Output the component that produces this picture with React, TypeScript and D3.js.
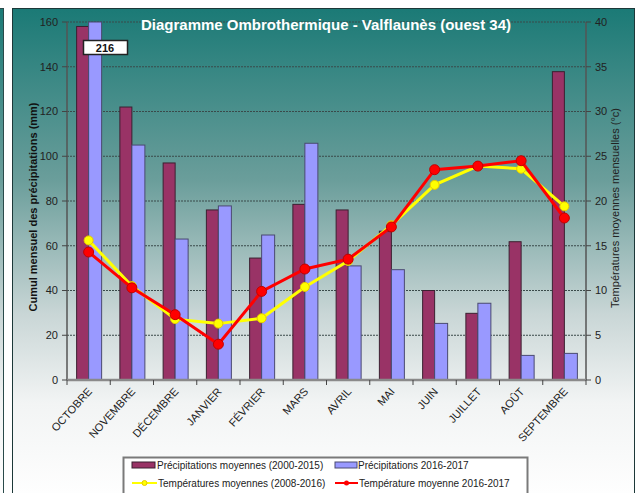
import * as d3 from "d3";

const months = ["OCTOBRE", "NOVEMBRE", "DÉCEMBRE", "JANVIER", "FÉVRIER", "MARS", "AVRIL", "MAI", "JUIN", "JUILLET", "AOÛT", "SEPTEMBRE"];
// precipitation (mm)
const precipMoy = [158, 122, 97, 76, 54.5, 78.5, 76, 66.5, 40, 29.8, 61.8, 137.8];
const precip1617 = [216, 105, 63, 77.8, 64.8, 105.8, 51, 49.3, 25.3, 34.3, 11, 11.9];
// temperatures (°C)
const tempMoy = [15.6, 10.5, 6.8, 6.3, 6.9, 10.4, 13.3, 17.3, 21.8, 23.9, 23.6, 19.4];
const temp1617 = [14.3, 10.3, 7.3, 4.0, 9.9, 12.4, 13.5, 17.1, 23.5, 23.9, 24.5, 18.1];

const leftTicks = [0, 20, 40, 60, 80, 100, 120, 140, 160];
const rightTicks = [0, 5, 10, 15, 20, 25, 30, 35, 40];

const W = 641, H = 493;
const plot = { left: 67, right: 586, top: 22, bottom: 380 };
const font = "'Liberation Sans', Arial, sans-serif";

const App = () => {
  const x = d3.scaleBand().domain(months).range([plot.left, plot.right]);
  const yL = d3.scaleLinear().domain([0, 160]).range([plot.bottom, plot.top]);
  const yR = d3.scaleLinear().domain([0, 40]).range([plot.bottom, plot.top]);
  const bw = 12;
  const cx = (m) => x(m) + x.bandwidth() / 2;

  const line = d3.line().x((d, i) => cx(months[i])).y(d => yR(d));

  return (
    <div style={{ position: "absolute", left: 0, top: 0 }}>
      <svg width={W} height={H} style={{ display: "block", fontFamily: font }}>
        <defs>
          <linearGradient id="bg" x1="0" y1="0" x2="0" y2="1">
            <stop offset="0" stopColor="#1b7a76" />
            <stop offset="0.35" stopColor="#6b9e9b" />
            <stop offset="0.62" stopColor="#c9d6d6" />
            <stop offset="0.8" stopColor="#f2f4f4" />
            <stop offset="1" stopColor="#ffffff" />
          </linearGradient>
        </defs>
        <rect x={0} y={0} width={W} height={H} fill="#fff" />
        <rect x={-2} y={8.5} width={5.5} height={H} fill="url(#bg)" stroke="#2a4a4a" />
        <rect x={12.5} y={8.5} width={622} height={H} fill="url(#bg)" stroke="#1c3838" />

        {/* gridlines */}
        {leftTicks.filter(t => t > 0).map(t => (
          <line key={t} x1={plot.left} x2={plot.right} y1={yL(t)} y2={yL(t)}
            stroke="#3a4a4a" strokeWidth={1} strokeDasharray="2,1" />
        ))}

        {/* bars */}
        {months.map((m, i) => (
          <g key={m}>
            <rect x={cx(m) - bw} y={yL(Math.min(precipMoy[i], 160))} width={bw}
              height={plot.bottom - yL(Math.min(precipMoy[i], 160))}
              fill="#993366" stroke="#3b2030" strokeWidth={1} />
            <rect x={cx(m)} y={yL(Math.min(precip1617[i], 160))} width={bw + 1}
              height={plot.bottom - yL(Math.min(precip1617[i], 160))}
              fill="#9999ff" stroke="#4a4a70" strokeWidth={1} />
          </g>
        ))}

        {/* axes */}
        <line x1={plot.left} x2={plot.left} y1={plot.top} y2={plot.bottom} stroke="#555" strokeWidth={1.5} />
        <line x1={plot.right} x2={plot.right} y1={plot.top} y2={plot.bottom} stroke="#555" strokeWidth={1.5} />
        <line x1={plot.left} x2={plot.right} y1={plot.bottom} y2={plot.bottom} stroke="#8a8a8a" strokeWidth={2.5} />
        {leftTicks.map(t => (
          <g key={t}>
            <line x1={plot.left - 5} x2={plot.left} y1={yL(t)} y2={yL(t)} stroke="#444" />
            <text x={plot.left - 9} y={yL(t)} dy="0.35em" textAnchor="end" fontSize={11} fill="#222">{t}</text>
          </g>
        ))}
        {rightTicks.map(t => (
          <g key={t}>
            <line x1={plot.right} x2={plot.right + 5} y1={yR(t)} y2={yR(t)} stroke="#444" />
            <text x={plot.right + 9} y={yR(t)} dy="0.35em" textAnchor="start" fontSize={11} fill="#222">{t}</text>
          </g>
        ))}
        {months.map((m, i) => (
          <line key={m} x1={x(m)} x2={x(m)} y1={plot.bottom} y2={plot.bottom + 5} stroke="#444" />
        ))}
        <line x1={plot.right} x2={plot.right} y1={plot.bottom} y2={plot.bottom + 5} stroke="#444" />

        {/* month labels */}
        {months.map(m => (
          <text key={m} transform={`translate(${cx(m) + 4},${plot.bottom + 12}) rotate(-48)`}
            textAnchor="end" fontSize={11} fill="#222">{m}</text>
        ))}

        {/* temperature lines */}
        <path d={line(tempMoy)} fill="none" stroke="#ffff00" strokeWidth={3} />
        {tempMoy.map((v, i) => (
          <circle key={i} cx={cx(months[i])} cy={yR(v)} r={4.5} fill="#ffff00" stroke="#e6c800" strokeWidth={1} />
        ))}
        <path d={line(temp1617)} fill="none" stroke="#ff0000" strokeWidth={3} />
        {temp1617.map((v, i) => (
          <circle key={i} cx={cx(months[i])} cy={yR(v)} r={5} fill="#ff0000" stroke="#c00000" strokeWidth={1} />
        ))}

        {/* clipped bar label */}
        <rect x={83.5} y={40.5} width={44} height={14} fill="#fff" stroke="#222" strokeWidth={1.5} />
        <text x={105} y={51.5} textAnchor="middle" fontSize={11} fontWeight="bold" fill="#111">{precip1617[0]}</text>

        {/* title */}
        <text x={326} y={30} textAnchor="middle" fontSize={15} fontWeight="bold" fill="#fff">
          Diagramme  Ombrothermique - Valflaunès (ouest 34)
        </text>

        {/* axis titles */}
        <text transform={`translate(37,${207}) rotate(-90)`} textAnchor="middle" fontSize={11} fontWeight="bold" fill="#111">
          Cumul mensuel des précipitations (mm)
        </text>
        <text transform={`translate(619,${208}) rotate(-90)`} textAnchor="middle" fontSize={11} fill="#222">
          Températures moyennes mensuelles (°c)
        </text>

        {/* legend */}
        <rect x={123.5} y={457.5} width={404} height={45} fill="#fff" stroke="#7a7a7a" strokeWidth={2} />
        <rect x={132} y={462} width={23} height={6} fill="#993366" stroke="#3b2030" />
        <text x={157} y={468.5} fontSize={10} fill="#222">Précipitations moyennes (2000-2015)</text>
        <rect x={335} y={462} width={22} height={6} fill="#9999ff" stroke="#4a4a70" />
        <text x={358} y={468.5} fontSize={10} fill="#222">Précipitations 2016-2017</text>
        <line x1={132} x2={157} y1={483} y2={483} stroke="#ffff00" strokeWidth={2} />
        <circle cx={144.5} cy={483} r={2.5} fill="#ffff00" stroke="#e6c800" />
        <text x={158} y={486.5} fontSize={10} fill="#222">Températures moyennes (2008-2016)</text>
        <line x1={335} x2={358} y1={483} y2={483} stroke="#ff0000" strokeWidth={2} />
        <circle cx={346.5} cy={483} r={2.5} fill="#ff0000" />
        <text x={359} y={486.5} fontSize={10} fill="#222">Température moyenne 2016-2017</text>
      </svg>
    </div>
  );
};

export default App;
